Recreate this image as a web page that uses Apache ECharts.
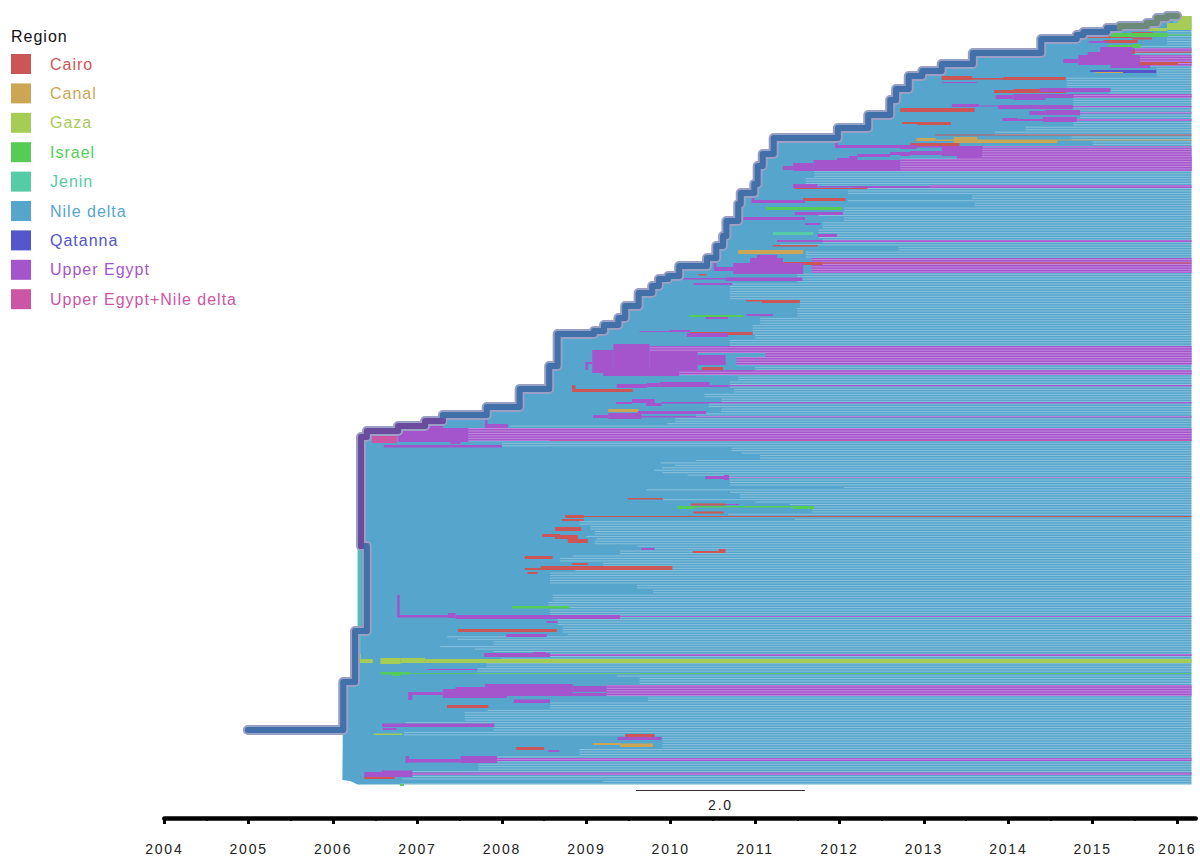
<!DOCTYPE html>
<html>
<head>
<meta charset="utf-8">
<title>Region tree</title>
<style>
  html, body { margin: 0; padding: 0; background: #fff; }
  #main { width: 1200px; height: 859px; }
  #main text { letter-spacing: 1px; }
  #main text[style*="14px"] { letter-spacing: 1.8px; }
</style>
<script src="https://cdn.jsdelivr.net/npm/echarts@6/dist/echarts.min.js"></script>
</head>
<body>
<div id="main"></div>
<script>
const legendTitle = 'Region'
const regionNames = ['Cairo', 'Canal', 'Gaza', 'Israel', 'Jenin', 'Nile delta', 'Qatanna', 'Upper Egypt', 'Upper Egypt+Nile delta']
const regionColors = ['#CC5555', '#CCA555', '#A5CC55', '#55CC55', '#55CCA5', '#55A5CC', '#5555CC', '#A555CC', '#CC55A5']

const yearTicks = [2004, 2005, 2006, 2007, 2008, 2009, 2010, 2011, 2012, 2013, 2014, 2015, 2016]
const halfYearTicks = [2004.5, 2005.5, 2006.5, 2007.5, 2008.5, 2009.5, 2010.5, 2011.5, 2012.5, 2013.5, 2014.5, 2015.5]
const lastSample = 2016.17

// trunk of the tree: [year, tree row]
const trunkRoot = [[2004.99, 730], [2006.12, 730], [2006.12, 682], [2006.26, 682], [2006.26, 631], [2006.40, 631], [2006.40, 546], [2006.33, 546]]
const trunkEgypt = [[2006.33, 546], [2006.33, 437], [2006.40, 437], [2006.40, 431], [2006.77, 431], [2006.77, 426], [2007.09, 426], [2007.09, 421], [2007.30, 421]]
const trunkNile = [[2007.30, 421], [2007.30, 415], [2007.82, 415], [2007.82, 407], [2008.21, 407], [2008.21, 389], [2008.56, 389], [2008.56, 366], [2008.66, 366], [2008.66, 334], [2009.09, 334], [2009.09, 331], [2009.21, 331], [2009.21, 325], [2009.38, 325], [2009.38, 318], [2009.46, 318], [2009.46, 306], [2009.62, 306], [2009.62, 293], [2009.78, 293], [2009.78, 286], [2009.86, 286], [2009.86, 279], [2009.97, 279], [2009.97, 276], [2010.10, 276], [2010.10, 266], [2010.43, 266], [2010.43, 258], [2010.54, 258], [2010.54, 246], [2010.62, 246], [2010.62, 236], [2010.66, 236], [2010.66, 221], [2010.80, 221], [2010.80, 204], [2010.83, 204], [2010.83, 193], [2010.99, 193], [2010.99, 184], [2011.03, 184], [2011.03, 166], [2011.09, 166], [2011.09, 154], [2011.22, 154], [2011.22, 138], [2011.98, 138], [2011.98, 128], [2012.34, 128], [2012.34, 115], [2012.60, 115], [2012.60, 100], [2012.67, 100], [2012.67, 89], [2012.82, 89], [2012.82, 76], [2012.98, 76], [2012.98, 71], [2013.21, 71], [2013.21, 64], [2013.58, 64], [2013.58, 53], [2014.39, 53], [2014.39, 39], [2014.81, 39], [2014.81, 35], [2014.89, 35], [2014.89, 32], [2015.17, 32], [2015.17, 28], [2015.32, 28]]
const trunkGaza = [[2015.32, 28], [2015.32, 26], [2015.64, 26], [2015.64, 23], [2015.76, 23], [2015.76, 18], [2015.88, 18], [2015.88, 16], [2016.00, 16]]

// outline of the mass of Nile delta branches, below and to the right of the trunk
const bodyLower = [[2006.11, 780], [2006.12, 682], [2006.26, 682], [2006.26, 631], [2006.31, 631], [2006.31, 546]]
const bodyCorners = [[2016.17, 16], [2016.17, 784.5], [2006.29, 784.5], [2006.20, 781]]

// first year at which tips separate, per block of rows: [first row, year]
const tipBands = [
  [16, 2015.95], [30, 2015.88], [46, 2015.5], [58, 2015.4], [68, 2015.76], [76, 2014.69], [90, 2015.2], [93, 2014.77], [112, 2014.85], [118, 2014.77], [125, 2014.2], [130, 2013.84], [135, 2014.75], [141, 2015.0], [146, 2013.7], [148, 2013.69], [157, 2013.39], [159, 2012.72],
  [171, 2011.7], [178, 2011.6], [185, 2011.5], [189, 2012.1], [195, 2013.57], [199, 2012.1], [202, 2013.6], [206, 2012.05], [211, 2011.75], [216, 2012.05], [222, 2011.8], [230, 2011.75], [238, 2011.8], [243, 2011.3], [246, 2012.7], [252, 2011.6], [258, 2011.67], [274, 2011.5],
  [281, 2011.5], [284, 2010.7], [300, 2011.53], [308, 2011.5], [318, 2011.06], [325, 2010.97], [335, 2011.0], [340, 2010.7], [346, 2009.75], [353, 2011.12], [357, 2010.78], [365, 2011.0], [370, 2009.81], [375, 2010.8], [380, 2010.7], [388, 2010.75], [393, 2010.4], [398, 2010.6], [403, 2010.45], [408, 2010.6], [412, 2010.3], [417, 2010.05], [422, 2009.96], [426, 2008.1], [428, 2007.6], [441, 2008.0],
  [446, 2010.55], [448, 2010.72], [451, 2010.84], [454, 2011.06], [459, 2010.3], [461, 2009.88], [463, 2010.05], [466, 2009.9], [470, 2009.8], [472, 2009.9], [474, 2010.2], [477, 2010.69], [480, 2010.7], [486, 2012.05], [489, 2009.71], [492, 2010.7], [494, 2010.82], [499, 2009.91], [501, 2011.0], [503, 2011.41], [508, 2011.68], [512, 2010.68], [515, 2010.6], [518, 2011.47],
  [520, 2008.92], [525, 2009.05], [530, 2009.1], [534, 2009.0], [537, 2009.12], [540, 2009.1], [544, 2008.65], [546, 2009.6], [548, 2009.81], [551, 2009.4], [555, 2008.84], [558, 2008.69], [562, 2009.2], [566, 2009.3], [570, 2008.87], [573, 2008.57], [583, 2009.6], [590, 2009.79], [595, 2008.6], [602, 2008.55], [608, 2008.57], [617, 2008.66], [625, 2008.72], [632, 2008.78], [635, 2007.35], [637, 2007.47], [640, 2007.9], [645, 2007.27], [648, 2007.68], [650, 2007.9], [657, 2008.0], [663, 2007.82], [668, 2007.71], [675, 2009.36], [678, 2009.63],
  [685, 2009.24], [696, 2009.73], [703, 2008.57], [708, 2007.83], [712, 2007.56], [722, 2006.86], [726, 2007.9], [730, 2006.84], [735, 2007.9], [737, 2009.9], [748, 2008.92], [756, 2007.74], [762, 2007.72], [770, 2006.91], [775, 2006.82], [779, 2009.2], [782, 2006.8]
]

// branches per region: [from year, to year, top row, bottom row]
const egyptTipBlocks = [
  [2013.69, lastSample, 148, 171], [2012.72, lastSample, 159, 171], [2013.39, lastSample, 156, 160], [2014.44, lastSample, 94, 98], [2014.75, lastSample, 106, 107.5], [2014.85, lastSample, 112, 113.5], [2014.81, lastSample, 119, 121], [2015.52, lastSample, 55, 66], [2015.47, lastSample, 48, 52], [2012.72, lastSample, 146, 147.5], [2013.07, lastSample, 185, 188],
  [2011.26, lastSample, 240, 242], [2011.67, lastSample, 258, 273], [2009.75, lastSample, 346, 353], [2011.12, lastSample, 353, 357], [2010.78, lastSample, 357, 365], [2009.81, lastSample, 370, 375], [2010.68, lastSample, 385, 386.5], [2009.89, lastSample, 402, 403.5], [2009.65, lastSample, 416, 417.5], [2007.6, lastSample, 428, 441],
  [2010.69, lastSample, 477, 478], [2009.40, lastSample, 616, 617], [2008.57, lastSample, 654, 656], [2009.24, lastSample, 685, 696], [2007.74, lastSample, 758, 761], [2006.94, lastSample, 772.5, 775]
]
const cairoBranches = [
  [2008.75, 2008.97, 515, 518], [2008.97, lastSample, 516, 517], [2008.71, 2008.97, 519, 521], [2008.63, 2008.94, 527, 531], [2008.48, 2008.69, 534, 537], [2008.63, 2008.90, 535, 539], [2008.78, 2009.02, 539, 543], [2008.27, 2008.60, 556, 559], [2008.46, 2010.02, 566, 570], [2008.27, 2008.46, 568, 570], [2008.30, 2008.42, 572, 574], [2008.83, 2009.02, 563, 565],
  [2009.49, 2009.91, 498, 499.5], [2010.24, 2010.65, 503.5, 505.5], [2010.27, 2010.63, 511.5, 513.5], [2010.26, 2010.57, 551, 553], [2010.57, 2010.65, 549, 553], [2007.48, 2008.65, 629, 632], [2007.35, 2007.84, 705, 708], [2008.17, 2008.50, 747, 750], [2009.46, 2009.81, 734, 737], [2006.37, 2006.73, 776, 779],
  [2010.89, 2011.08, 300, 301.5], [2011.08, 2011.53, 300, 303], [2010.23, 2010.97, 332, 335], [2008.83, 2008.87, 385, 390], [2008.83, 2009.55, 389, 392], [2010.33, 2010.42, 274, 275.5], [2010.97, 2011.80, 262, 265], [2011.80, lastSample, 262.5, 263.5], [2011.57, 2012.07, 198, 201], [2011.47, 2012.33, 188, 189], [2011.21, 2011.74, 245, 246.5], [2010.37, 2010.62, 367, 370],
  [2012.72, 2013.60, 108, 112], [2012.74, 2012.93, 122, 124], [2012.93, 2013.32, 122, 125], [2013.13, lastSample, 134.5, 135.5], [2012.84, 2013.42, 143, 146], [2013.21, 2013.57, 76, 80], [2013.57, 2013.94, 78, 79.7], [2013.94, 2014.68, 77, 80], [2013.83, 2014.68, 90, 93], [2014.06, 2014.44, 89, 91],
  [2014.93, 2015.47, 36, 38], [2015.46, 2015.71, 32, 33.5], [2015.13, 2015.53, 40, 43], [2015.47, 2015.70, 37.5, 39.5], [2015.09, 2015.50, 50, 54], [2015.50, lastSample, 51.7, 52.7], [2015.21, 2015.47, 62, 63.5], [2015.44, 2015.56, 59, 65], [2015.56, 2016.01, 62, 65], [2016.01, lastSample, 62, 63]
]
const canalBranches = [
  [2012.91, 2013.14, 138, 141], [2013.14, 2013.35, 139.5, 141], [2013.35, 2013.63, 137, 143], [2013.63, 2014.58, 139.5, 143], [2014.58, lastSample, 139.5, 140.5], [2010.80, 2011.57, 250, 254], [2009.26, 2009.62, 409, 412], [2008.19, 2008.57, 692.5, 695], [2009.40, 2009.79, 743.5, 747], [2009.08, 2009.40, 743, 745], [2015.03, 2015.36, 71.7, 73]
]
const gazaBranches = [
  [2006.29, 2006.33, 654, 663], [2006.29, 2006.47, 659, 663], [2006.56, 2006.80, 658, 664], [2006.80, 2007.09, 658, 663], [2007.09, lastSample, 659, 663], [2006.48, 2006.82, 733.5, 735], [2015.88, lastSample, 23, 30], [2016.01, lastSample, 16, 23], [2015.64, 2015.88, 28, 31]
]
const israelBranches = [
  [2015.21, 2015.89, 33, 37], [2015.89, lastSample, 34.5, 35.5], [2015.19, 2015.56, 45, 47], [2015.47, 2015.57, 44, 48], [2011.13, 2012.03, 207, 210], [2010.22, 2010.86, 315, 317], [2010.08, 2010.28, 506, 509], [2010.28, 2011.45, 506, 507.5], [2011.45, 2011.70, 506, 509], [2008.12, 2008.80, 606, 608.5], [2006.56, 2006.91, 672, 674.5], [2006.70, 2006.80, 674, 676], [2006.91, lastSample, 673.3, 674], [2006.79, 2006.84, 784, 786]
]
const jeninBranches = [[2011.21, 2011.69, 232, 235]]
const jeninTrunkSide = [[2006.29, 2006.33, 547, 658]]
const qatannaBranches = [[2014.97, 2015.36, 70, 72], [2015.36, 2015.75, 70, 73]]
const mixedBranches = [[2006.46, 2006.76, 436, 443], [2008.57, lastSample, 440, 441]]
const egyptBranches = [
  [2014.65, 2014.83, 59, 63], [2014.83, 2015.56, 55, 65], [2014.94, 2015.17, 52, 55], [2015.09, 2015.47, 47, 55], [2015.21, 2015.68, 65, 68], [2014.95, 2015.17, 41, 43], [2013.22, 2013.63, 82, 83], [2014.37, 2015.21, 88, 92], [2013.85, 2014.06, 95, 99], [2014.06, 2014.44, 94, 100], [2013.33, 2013.65, 104, 107], [2013.65, 2013.88, 105.5, 106.5], [2013.88, 2014.76, 105, 109], [2014.25, 2014.44, 111, 115], [2014.44, 2014.85, 110, 115], [2013.93, 2014.11, 118, 121], [2014.11, 2014.41, 119, 121], [2014.41, 2014.81, 117, 122],
  [2012.72, 2012.91, 145, 149], [2013.21, 2013.69, 147, 156], [2012.84, 2013.21, 151, 155], [2012.72, 2012.84, 153, 156], [2011.33, 2011.45, 166, 170], [2011.45, 2011.69, 163, 171], [2011.69, 2012.72, 160, 171], [2011.97, 2012.21, 158, 161], [2012.21, 2012.60, 154, 157], [2012.60, 2013.07, 152, 155], [2012.11, 2012.21, 156, 159], [2011.95, 2012.92, 145, 148], [2011.95, 2011.98, 138, 148],
  [2011.45, 2011.74, 184, 188], [2011.74, 2012.16, 186, 187.5], [2012.16, 2013.07, 186, 188], [2010.96, 2010.99, 193, 203], [2010.96, 2011.59, 200, 203], [2010.84, 2011.59, 217, 220], [2011.47, 2012.04, 212, 215], [2011.59, 2011.77, 223, 225], [2011.74, 2011.97, 234, 237],
  [2010.51, 2010.54, 260, 270], [2010.51, 2010.74, 267, 271], [2010.74, 2011.57, 263, 274], [2010.94, 2011.33, 258, 267], [2011.02, 2011.26, 255, 258], [2010.65, 2011.56, 277.5, 281], [2010.15, 2010.65, 278, 279.5], [2010.27, 2010.73, 283, 285], [2010.90, 2011.21, 314, 316], [2010.41, 2010.68, 317, 319], [2009.99, 2010.23, 330, 332], [2009.63, 2009.99, 331, 332], [2010.19, 2010.68, 333, 337],
  [2009.32, 2009.75, 344, 373], [2009.07, 2009.32, 350, 373], [2009.75, 2010.32, 352, 370], [2010.32, 2010.65, 355, 365], [2008.99, 2009.02, 362, 370], [2008.99, 2009.07, 362, 364], [2009.2, 2010.1, 368, 376],
  [2009.36, 2009.72, 384, 388], [2009.72, 2009.87, 383, 387], [2009.87, 2010.46, 382, 387], [2010.46, 2010.68, 385, 387], [2009.35, 2009.54, 402, 404], [2009.54, 2009.81, 399, 403], [2009.71, 2009.89, 403, 406], [2009.61, 2010.42, 411, 414], [2009.08, 2009.26, 415, 418], [2009.26, 2009.65, 413, 419],
  [2007.80, 2007.83, 418, 428], [2007.80, 2008.07, 424, 428], [2006.77, 2007.6, 428, 442], [2007.15, 2007.30, 426, 430], [2006.60, 2008.00, 445, 447.5], [2007.39, 2007.51, 442, 444],
  [2010.41, 2010.65, 476, 479], [2010.63, 2010.69, 475, 480], [2010.65, 2010.81, 504, 505], [2009.65, 2009.81, 548, 550], [2006.76, 2006.79, 595, 617], [2006.76, 2007.36, 615, 617.5], [2007.36, 2007.45, 613, 618], [2007.45, 2009.40, 615, 619], [2008.53, 2008.66, 621, 623], [2008.05, 2008.53, 634, 637], [2007.79, 2008.57, 653, 657], [2008.37, 2008.52, 652, 657],
  [2007.12, 2007.71, 669, 670], [2006.89, 2006.94, 692, 700], [2006.89, 2007.30, 692, 695], [2007.30, 2008.06, 689, 698], [2007.45, 2007.80, 687, 692], [2007.80, 2008.84, 684, 695], [2008.84, 2009.24, 686, 692], [2007.98, 2009.24, 693, 696], [2008.14, 2008.57, 699.5, 703],
  [2006.58, 2007.91, 723.5, 727], [2006.59, 2006.75, 728, 730], [2006.86, 2006.90, 756, 763], [2006.86, 2007.51, 759, 762.5], [2007.51, 2007.94, 756, 763], [2006.37, 2006.94, 772, 777], [2006.58, 2006.94, 770.5, 773], [2009.37, 2009.89, 737, 740], [2008.55, 2008.68, 750, 752]
]
const regionBranches = [cairoBranches, canalBranches, gazaBranches, israelBranches, jeninBranches, [], qatannaBranches, egyptBranches, mixedBranches]

const scaleBar = [[2009.59, 2011.59, 790]]
const scaleLabel = '2.0'

// one tip every few rows, each starts where its block says
const tipRows = []
for (let row = 17; row < 784; row += 2.45) {
  let start = tipBands[0][1]
  tipBands.forEach(b => { if (b[0] <= row) start = b[1] })
  tipRows.push([start, row])
}

const font = '"Liberation Sans", Arial, sans-serif'

function renderBranch(color) {
  return function (params, api) {
    const a = api.coord([api.value(0), api.value(2)])
    const b = api.coord([api.value(1), api.value(3)])
    return {
      type: 'rect',
      shape: { x: a[0], y: a[1], width: b[0] - a[0], height: b[1] - a[1] },
      style: { fill: color }
    }
  }
}

function branchSeries(name, color, data) {
  return {
    name: name,
    type: 'custom',
    data: data,
    clip: false,
    silent: true,
    animation: false,
    itemStyle: { color: color },
    encode: { x: [0, 1], y: [2, 3] },
    renderItem: renderBranch(color)
  }
}

function trunkSeries(data, color, width) {
  return {
    type: 'line',
    data: data,
    clip: false,
    silent: true,
    animation: false,
    showSymbol: false,
    lineStyle: { color: color, width: width, cap: 'round', join: 'round' }
  }
}

const allTrunk = trunkRoot.concat(trunkEgypt, trunkNile, trunkGaza)
const bodyOutline = bodyLower.concat(trunkEgypt, trunkNile, trunkGaza, bodyCorners)
const nileColor = regionColors[regionNames.indexOf('Nile delta')]
const egyptColor = regionColors[regionNames.indexOf('Upper Egypt')]

const series = []
series.push(trunkSeries(allTrunk, '#9A9FC6', 10))
series.push({
  name: 'Nile delta',
  type: 'custom',
  data: bodyOutline,
  clip: false,
  silent: true,
  animation: false,
  itemStyle: { color: nileColor },
  encode: { x: 0, y: 1 },
  renderItem: function (params, api) {
    if (params.dataIndex !== 0) return null
    return {
      type: 'polygon',
      shape: { points: bodyOutline.map(p => api.coord(p)) },
      style: { fill: nileColor }
    }
  }
})
series.push(branchSeries('Upper Egypt', egyptColor, egyptTipBlocks))
series.push({
  type: 'custom',
  data: tipRows,
  clip: false,
  silent: true,
  animation: false,
  encode: { x: 0, y: 1 },
  renderItem: function (params, api) {
    const a = api.coord([api.value(0), api.value(1)])
    const b = api.coord([lastSample, api.value(1)])
    return {
      type: 'line',
      shape: { x1: a[0], y1: a[1], x2: b[0], y2: b[1] },
      style: { stroke: 'rgba(255, 255, 255, 0.32)', lineWidth: 1 }
    }
  }
})
series.push(branchSeries('', '#55BDB8', jeninTrunkSide))
regionNames.forEach((name, i) => {
  if (regionBranches[i].length) series.push(branchSeries(name, regionColors[i], regionBranches[i]))
})
series.push(trunkSeries(trunkRoot, '#4270A8', 6))
series.push(trunkSeries(trunkNile, '#4270A8', 6))
series.push(trunkSeries(trunkEgypt, '#6B4B9E', 6))
series.push(trunkSeries(trunkGaza, '#6B8A78', 6))
series.push({
  type: 'custom',
  data: scaleBar,
  clip: false,
  silent: true,
  animation: false,
  encode: { x: [0, 1], y: 2 },
  renderItem: function (params, api) {
    const a = api.coord([api.value(0), api.value(2)])
    const b = api.coord([api.value(1), api.value(2)])
    return {
      type: 'group',
      children: [
        { type: 'line', shape: { x1: a[0], y1: a[1] + 0.5, x2: b[0], y2: b[1] + 0.5 }, style: { stroke: '#333', lineWidth: 1 } },
        { type: 'text', style: { x: (a[0] + b[0]) / 2, y: a[1] + 15, text: scaleLabel, align: 'center', verticalAlign: 'middle', fill: '#222', font: '14px ' + font } }
      ]
    }
  }
})

const chart = echarts.init(document.getElementById('main'), null, { renderer: 'svg', width: 1200, height: 859 })
chart.setOption({
  backgroundColor: '#fff',
  animation: false,
  title: {
    text: legendTitle,
    left: 11,
    top: 28,
    padding: 0,
    textStyle: { color: '#111', fontSize: 16, fontWeight: 'normal', fontFamily: font }
  },
  legend: {
    orient: 'vertical',
    left: 11,
    top: 54,
    padding: 0,
    itemWidth: 20,
    itemHeight: 20,
    itemGap: 9.4,
    selectedMode: false,
    icon: 'rect',
    textStyle: { fontSize: 16, fontFamily: font, padding: [2, 0, 0, 14] },
    data: regionNames.map((name, i) => ({ name: name, icon: 'rect', textStyle: { color: regionColors[i] } }))
  },
  grid: { left: 164.3, top: 0, width: 1031.4, height: 818 },
  xAxis: [
    {
      type: 'value',
      position: 'bottom',
      min: 2004,
      max: 2016.22,
      splitLine: { show: false },
      axisLine: { show: true, onZero: false, lineStyle: { color: '#000', width: 4.5 } },
      axisTick: { show: true, customValues: yearTicks, length: 6, lineStyle: { color: '#000', width: 3 } },
      axisLabel: {
        show: true,
        customValues: yearTicks,
        margin: 24,
        color: '#222',
        fontSize: 14,
        fontFamily: font,
        formatter: v => String(v)
      }
    },
    {
      type: 'value',
      position: 'bottom',
      min: 2004,
      max: 2016.22,
      splitLine: { show: false },
      axisLine: { show: false, onZero: false },
      axisTick: { show: true, customValues: halfYearTicks, length: 3, lineStyle: { color: '#000', width: 2 } },
      axisLabel: { show: false }
    }
  ],
  yAxis: { type: 'value', inverse: true, min: 0, max: 818, show: false },
  series: series
})
</script>
</body>
</html>
